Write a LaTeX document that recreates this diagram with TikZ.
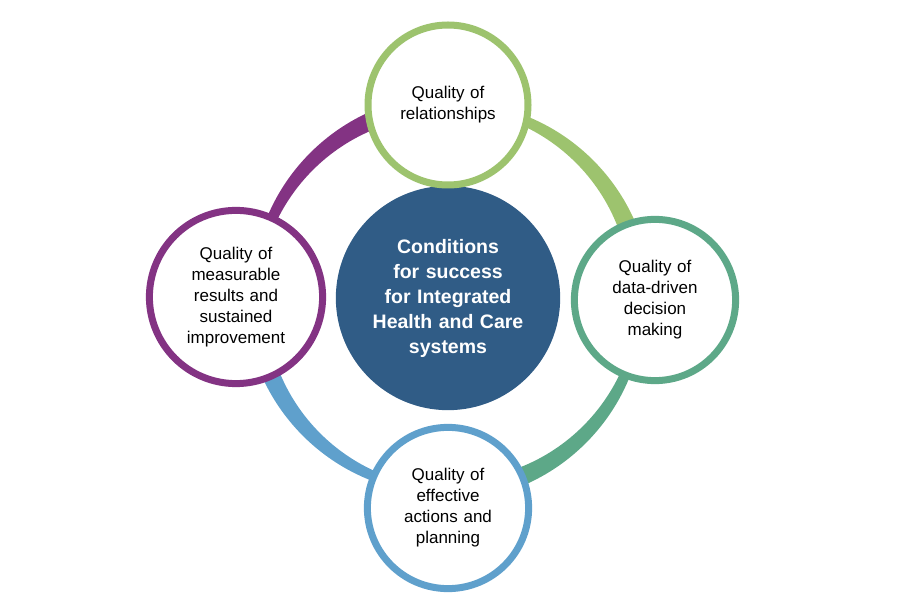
\documentclass[tikz,border=0pt]{standalone}
\usepackage{fontspec}
\setmainfont{Liberation Sans}
\definecolor{cgreen}{HTML}{9DC36E}
\definecolor{cteal}{HTML}{5DA888}
\definecolor{cblue}{HTML}{5FA0CC}
\definecolor{cpurple}{HTML}{833383}
\definecolor{cnavy}{HTML}{305C86}
\begin{document}
\begin{tikzpicture}[x=1pt,y=1pt,
  sat/.style={circle,draw,line width=7pt,fill=white,minimum size=160pt,align=center,font=\fontsize{17}{21}\selectfont,text width=130pt},
  hub/.style={circle,fill=cnavy,minimum size=214pt,align=center,text=white,font=\bfseries\fontsize{19.5}{25}\selectfont,text width=180pt}]
\useasboundingbox (0,0) rectangle (900,600);
\coordinate (C) at (448,302);
\newcommand{\tarc}[3]{% start angle, end angle (clockwise), color
  \fill[#3] plot[domain=#1:#2,samples=60] ({448+(193+(3+8*(#1-\x)/90))*cos(\x)},{302+(193+(3+8*(#1-\x)/90))*sin(\x)})
   -- plot[domain=#2:#1,samples=60] ({448+(193-(3+8*(#1-\x)/90))*cos(\x)},{302+(193-(3+8*(#1-\x)/90))*sin(\x)}) -- cycle;}
\tarc{90}{0}{cgreen}
\tarc{0}{-90}{cteal}
\tarc{-90}{-180}{cblue}
\tarc{180}{90}{cpurple}
\node[hub] (hub) at (C) {Conditions\\for success\\for Integrated\\Health and Care\\systems};
\node[sat,draw=cgreen] (top) at (448,495) {Quality of\\relationships\\[26pt]};
\node[sat,draw=cteal] (right) at (655,300) {Quality of\\data-driven\\decision\\making};
\node[sat,draw=cblue] (bottom) at (448,92) {Quality of\\effective\\actions and\\planning};
\node[sat,draw=cpurple] (left) at (236,303) {Quality of\\measurable\\results and\\sustained\\improvement};
\end{tikzpicture}
\end{document}
